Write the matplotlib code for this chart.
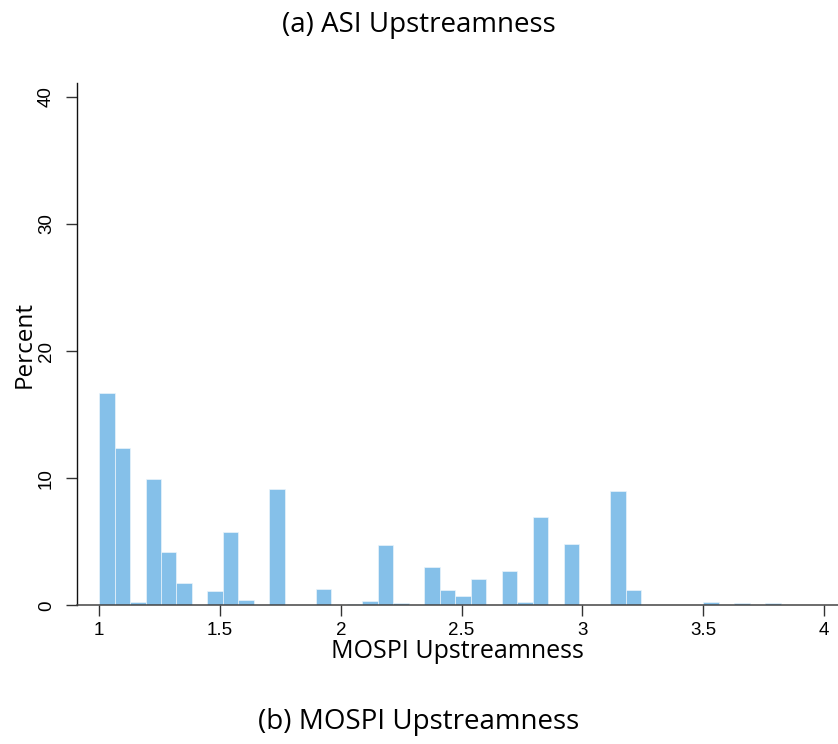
import numpy as np
import matplotlib.pyplot as plt

# histogram of MOSPI upstreamness, percent of observations per bin
bin_start = 1.0
bin_width = 0.0641
percent = [16.7, 12.35, 0.3, 9.95, 4.2, 1.8, 0.0, 1.15, 5.75, 0.45,
           0.0, 9.15, 0.0, 0.0, 1.3, 0.0, 0.15, 0.35, 4.75, 0.2,
           0.0, 3.0, 1.2, 0.77, 2.1, 0.0, 2.7, 0.25, 6.95, 0.0,
           4.85, 0.0, 0.0, 9.0, 1.22, 0.0, 0.0, 0.0, 0.0, 0.25,
           0.0, 0.2, 0.0, 0.2]
x_ticks = [1, 1.5, 2, 2.5, 3, 3.5, 4]
x_ticklabels = ["1", "1.5", "2", "2.5", "3", "3.5", "4"]
y_ticks = [0, 10, 20, 30, 40]

edges = bin_start + bin_width * np.arange(len(percent) + 1)

fig = plt.figure(figsize=(8.38, 7.44), dpi=100)
ax = fig.add_axes([0.0922, 0.1862, 0.9078, 0.7019])

ax.bar(edges[:-1], percent, width=bin_width, align='edge',
       color='#85c0e9', edgecolor='#eaf4fb', linewidth=0.5, zorder=2)

ax.set_xlim(0.91, 4.057)
ax.set_ylim(0, 41.05)

for s in ['top', 'right']:
    ax.spines[s].set_visible(False)
ax.spines['left'].set_color('#111111')
ax.spines['bottom'].set_color('#444444')
ax.spines['left'].set_linewidth(1.0)
ax.spines['bottom'].set_linewidth(1.1)
ax.spines['bottom'].set_zorder(3)

ax.set_xticks(x_ticks)
ax.set_xticklabels(x_ticklabels, family='Liberation Sans', fontsize=13.5)
ax.set_yticks(y_ticks)
ax.set_yticklabels([str(v) for v in y_ticks], family='Liberation Sans',
                   fontsize=13.5, rotation=90, va='center')
ax.tick_params(axis='x', length=8, width=1.0, color='#333333', pad=4)
ax.tick_params(axis='y', length=8, width=1.0, color='#333333', pad=8)

ax.set_xlabel('MOSPI Upstreamness', family='Open Sans', fontsize=18,
              labelpad=0)
ax.set_ylabel('Percent', family='Open Sans', fontsize=17.5, labelpad=1)

fig.text(0.5, 0.967, '(a) ASI Upstreamness', family='Open Sans',
         fontsize=20, ha='center', va='center')
fig.text(0.5, 0.030, '(b) MOSPI Upstreamness', family='Open Sans',
         fontsize=20, ha='center', va='center')

fig.savefig('out.png', dpi=100)
